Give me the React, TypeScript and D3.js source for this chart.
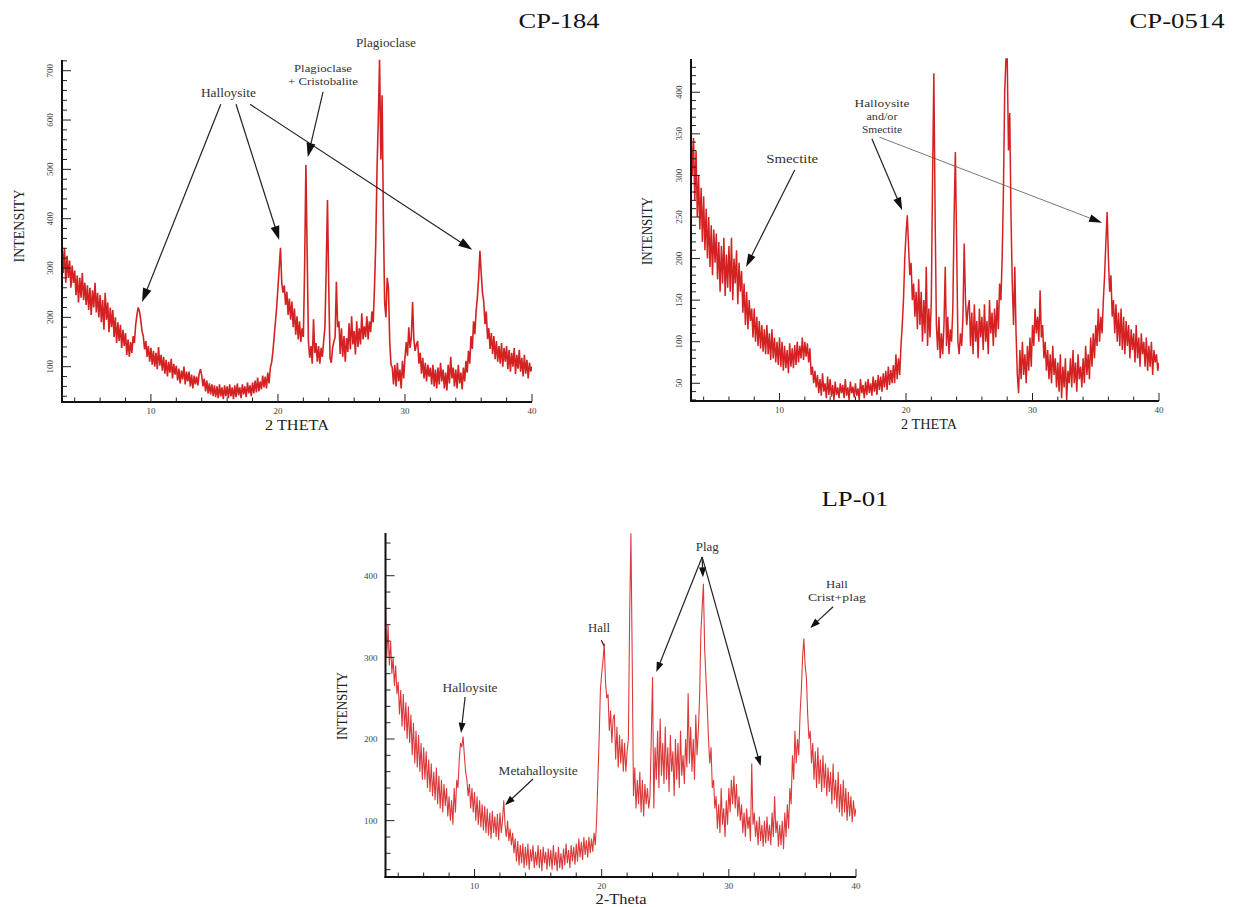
import React from "react";
import * as d3 from "d3";

// 2-theta grid of the scans (degrees)
const THETA_START = 3;
const THETA_STEP = 0.1;

// CP-184 intensities, one row per degree (3.0 .. 40.0)
const CP184 = [
  355, 290, 340, 270, 325, 280, 315, 260, 305, 270,
  295, 245, 285, 230, 280, 240, 290, 235, 270, 225,
  265, 215, 260, 205, 255, 220, 270, 210, 250, 200,
  245, 190, 235, 175, 250, 195, 230, 170, 220, 180,
  215, 160, 200, 148, 190, 152, 185, 138, 175, 142,
  168, 124, 155, 120, 150, 128, 162, 148, 185, 205,
  220, 212, 195, 172, 162, 135, 152, 120, 142, 110,
  138, 104, 132, 100, 128, 95, 140, 102, 124, 92,
  120, 86, 114, 80, 110, 88, 116, 76, 106, 84,
  102, 72, 96, 66, 92, 74, 100, 64, 90, 70,
  90, 60, 84, 56, 82, 64, 80, 62, 86, 95,
  82, 60, 76, 50, 72, 46, 66, 44, 64, 40,
  62, 38, 60, 36, 64, 40, 58, 34, 62, 40,
  60, 36, 64, 40, 58, 34, 62, 38, 66, 42,
  58, 36, 64, 44, 60, 38, 68, 46, 62, 40,
  68, 46, 72, 48, 78, 50, 70, 54, 82, 58,
  80, 56, 88, 66, 98, 108, 130, 160, 190, 220,
  260, 300, 341, 270, 250, 265, 225, 252, 205, 238,
  195, 232, 180, 218, 165, 202, 155, 192, 150, 178,
  160, 300, 509, 330, 150, 118, 142, 106, 196, 128,
  148, 110, 142, 106, 138, 120, 152, 180, 300, 438,
  260, 118, 108, 138, 150, 160, 272, 180, 192, 126,
  178, 120, 162, 110, 158, 130, 188, 135, 202, 145,
  172, 125, 192, 140, 178, 145, 208, 155, 182, 160,
  202, 155, 192, 170, 212, 190, 260, 350, 500, 600,
  722, 520, 650, 400, 230, 200, 280, 260, 150, 105,
  98, 64, 104, 60, 108, 70, 94, 56, 112, 76,
  118, 150, 122, 180, 138, 160, 231, 155, 132, 145,
  152, 106, 128, 86, 118, 76, 108, 70, 104, 80,
  98, 64, 104, 60, 94, 56, 98, 64, 108, 70,
  94, 56, 88, 52, 104, 66, 120, 76, 98, 60,
  94, 56, 104, 66, 88, 54, 98, 70, 112, 88,
  132, 106, 162, 136, 192, 166, 212, 240, 280, 335,
  290, 250, 232, 186, 212, 156, 178, 136, 168, 126,
  162, 115, 152, 110, 142, 106, 148, 100, 138, 110,
  142, 95, 134, 90, 128, 100, 138, 85, 124, 96,
  134, 90, 118, 80, 124, 86, 114, 76, 108, 90,
  100,
];

// CP-0514 intensities
const CP0514 = [
  358, 300, 345, 270, 330, 250, 300, 235, 285, 220,
  275, 210, 260, 200, 250, 190, 240, 180, 235, 195,
  230, 175, 220, 160, 215, 170, 225, 155, 205, 165,
  215, 160, 225, 150, 200, 170, 210, 145, 195, 160,
  185, 135, 170, 120, 160, 115, 150, 125, 140, 105,
  140, 100, 130, 95, 125, 92, 120, 88, 115, 85,
  120, 85, 110, 78, 115, 80, 105, 75, 100, 72,
  105, 70, 100, 65, 95, 68, 90, 62, 98, 70,
  92, 68, 96, 72, 100, 75, 95, 80, 105, 78,
  100, 82, 98, 75, 92, 60, 70, 50, 65, 45,
  60, 38, 55, 35, 62, 40, 50, 32, 58, 36,
  55, 34, 48, 30, 52, 36, 45, 32, 50, 38,
  48, 32, 55, 35, 45, 30, 52, 38, 46, 33,
  50, 35, 44, 30, 55, 38, 48, 32, 52, 36,
  55, 38, 50, 35, 58, 40, 54, 36, 60, 42,
  58, 40, 62, 45, 65, 42, 70, 48, 66, 50,
  72, 50, 85, 55, 80, 60, 95, 120, 150, 200,
  230, 252, 215, 180, 195, 150, 170, 130, 160, 115,
  175, 120, 160, 100, 150, 110, 190, 95, 140, 105,
  150, 300, 423, 250, 120, 90, 130, 80, 110, 85,
  120, 190, 95, 130, 85, 115, 100, 140, 250, 328,
  220, 100, 85, 110, 95, 130, 218, 150, 120, 140,
  150, 95, 135, 85, 145, 100, 125, 80, 140, 105,
  130, 90, 145, 100, 125, 85, 150, 110, 135, 95,
  140, 105, 150, 115, 170, 150, 200, 280, 400, 440,
  440, 330, 375, 250, 170, 120, 190, 110, 60, 38,
  90, 55, 100, 60, 85, 50, 95, 65, 105, 70,
  120, 95, 140, 110, 130, 100, 162, 105, 120, 80,
  100, 65, 90, 55, 85, 50, 95, 60, 80, 45,
  75, 40, 85, 32, 70, 45, 80, 30, 65, 50,
  80, 45, 90, 50, 75, 40, 85, 55, 70, 45,
  80, 50, 95, 60, 85, 55, 105, 70, 110, 80,
  120, 95, 140, 100, 130, 110, 150, 180, 220, 256,
  200, 160, 180, 130, 150, 110, 145, 100, 135, 95,
  140, 90, 130, 85, 125, 95, 120, 80, 115, 90,
  110, 75, 120, 80, 105, 70, 110, 85, 100, 70,
  105, 65, 95, 70, 100, 60, 90, 75, 85, 65,
  75,
];

// LP-01 intensities
const LP01 = [
  365, 300, 340, 290, 320, 280, 300, 265, 290, 255,
  270, 230, 260, 215, 255, 210, 245, 200, 240, 195,
  230, 180, 220, 170, 210, 165, 205, 160, 195, 150,
  190, 150, 185, 140, 175, 135, 170, 130, 160, 125,
  165, 120, 155, 115, 150, 110, 145, 118, 140, 105,
  130, 100, 125, 95, 140, 110, 150, 140, 175, 195,
  190, 203, 180, 160, 150, 130, 145, 115, 140, 110,
  135, 100, 130, 95, 125, 92, 120, 88, 118, 85,
  115, 82, 110, 78, 112, 85, 105, 80, 108, 76,
  110, 85, 100, 125, 95, 80, 100, 75, 90, 70,
  85, 60, 78, 50, 75, 45, 70, 48, 72, 42,
  68, 45, 72, 40, 65, 50, 70, 42, 62, 45,
  70, 42, 65, 38, 68, 48, 62, 40, 66, 44,
  64, 40, 70, 45, 62, 38, 68, 42, 60, 40,
  66, 45, 72, 48, 64, 42, 70, 50, 68, 46,
  72, 50, 78, 55, 74, 52, 80, 58, 76, 55,
  80, 60, 78, 62, 85, 70, 100, 150, 200, 260,
  280, 295, 317, 270, 250, 255, 210, 235, 195, 225,
  230, 175, 215, 165, 205, 170, 200, 160, 195, 160,
  185, 200, 350, 452, 300, 130, 165, 115, 150, 120,
  160, 110, 150, 105, 145, 120, 140, 115, 130, 200,
  276, 115, 190, 150, 210, 140, 225, 155, 195, 145,
  215, 150, 190, 135, 205, 160, 185, 130, 200, 150,
  195, 140, 210, 155, 180, 145, 200, 165, 256, 170,
  215, 160, 200, 150, 230, 180, 210, 250, 330, 360,
  390, 310, 275, 240, 200, 170, 190, 140, 150, 115,
  130, 90, 120, 85, 140, 95, 115, 80, 125, 95,
  140, 110, 150, 120, 155, 115, 145, 105, 130, 100,
  120, 85, 110, 80, 115, 90, 105, 75, 170, 95,
  110, 80, 100, 70, 105, 75, 95, 68, 100, 72,
  105, 75, 95, 70, 110, 80, 130, 85, 100, 68,
  95, 70, 100, 65, 110, 80, 120, 90, 140, 120,
  180, 150, 210, 170, 200, 180, 230, 260, 300, 323,
  290, 275, 230, 200, 210, 170, 195, 150, 185, 140,
  190, 145, 175, 135, 180, 140, 170, 130, 165, 135,
  160, 120, 170, 125, 150, 115, 160, 110, 145, 105,
  150, 110, 140, 100, 135, 105, 130, 98, 125, 105,
  115,
];

const X_TICKS = [10, 20, 30, 40];
const CP184_Y_TICKS = [100, 200, 300, 400, 500, 600, 700];
const CP0514_Y_TICKS = [50, 100, 150, 200, 250, 300, 350, 400];
const LP01_Y_TICKS = [100, 200, 300, 400];

const CP184_LABELS = [
  { t: 16.1, v: 655, s: "Halloysite", w: 55, f: 12 },
  { t: 23.55, v: 704, s: "Plagioclase", w: 58, f: 10.5 },
  { t: 23.55, v: 679, s: "+ Cristobalite", w: 70, f: 10.5 },
  { t: 28.5, v: 756, s: "Plagioclase", w: 60, f: 12 },
];
const CP184_ARROWS = [
  { from: [15.5, 632], to: [9.3, 231] },
  { from: [16.7, 632], to: [20.1, 357] },
  { from: [17.8, 632], to: [35.3, 337] },
  { from: [23.55, 657], to: [22.35, 525] },
];

const CP0514_LABELS = [
  { t: 11.0, v: 320, s: "Smectite", w: 52, f: 12 },
  { t: 18.1, v: 387, s: "Halloysite", w: 55, f: 10.5 },
  { t: 18.1, v: 371.5, s: "and/or", w: 31, f: 10.5 },
  { t: 18.1, v: 356, s: "Smectite", w: 40, f: 10.5 },
];
const CP0514_ARROWS = [
  { from: [11.2, 306.5], to: [7.35, 190] },
  { from: [17.3, 344], to: [19.7, 258] },
  { from: [17.9, 346], to: [35.5, 243], thin: true },
];

const LP01_LABELS = [
  { t: 9.65, v: 262.5, s: "Halloysite", w: 55, f: 12 },
  { t: 15.0, v: 161, s: "Metahalloysite", w: 79, f: 12 },
  { t: 19.8, v: 336, s: "Hall", w: 22, f: 12 },
  { t: 28.3, v: 436, s: "Plag", w: 23, f: 12 },
  { t: 38.5, v: 390, s: "Hall", w: 22, f: 11 },
  { t: 38.5, v: 374, s: "Crist+plag", w: 58, f: 11 },
];
const LP01_ARROWS = [
  { from: [9.26, 251.5], to: [8.94, 207.5] },
  { from: [14.6, 151], to: [12.4, 119] },
  { from: [19.97, 321], to: [20.2, 314], noHead: true },
  { from: [27.9, 423], to: [24.3, 282] },
  { from: [27.9, 423], to: [27.96, 398] },
  { from: [27.9, 423], to: [32.5, 167] },
  { from: [38.2, 362], to: [36.4, 336] },
];

const SERIF = "'Liberation Serif', 'DejaVu Serif', serif";

type PanelCfg = {
  id: string;
  title: string;
  titleX: number;
  titleY: number;
  titleW: number;
  data: number[];
  left: number;
  right: number;
  top: number;
  bottom: number;
  yDomain: [number, number];
  yTicks: number[];
  yMinor: number;
  rotateY: boolean;
  color: string;
  sw: number;
  xLabel: string;
  xLabelX: number;
  xLabelY: number;
  xLabelW: number;
  yLabelX: number;
  yLabelY: number;
  yLabelW: number;
  labels: { t: number; v: number; s: string; w: number; f: number }[];
  arrows: { from: number[]; to: number[]; thin?: boolean; noHead?: boolean }[];
  headL: number;
  headW: number;
};

function Panel({ c }: { c: PanelCfg }) {
  const x = d3.scaleLinear().domain([3, 40]).range([c.left, c.right]);
  const y = d3.scaleLinear().domain(c.yDomain).range([c.bottom, c.top]);
  const line = d3
    .line<number>()
    .x((_, i) => x(THETA_START + i * THETA_STEP))
    .y((d) => y(d));
  const xMinor = d3.range(4, 40.001, 2).filter((v) => v % 10 !== 0);
  const yMinor = d3
    .range(Math.ceil(c.yDomain[0] / c.yMinor) * c.yMinor, c.yDomain[1], c.yMinor)
    .filter((v) => !c.yTicks.includes(v));

  return (
    <g>
      <defs>
        <clipPath id={`clip-${c.id}`}>
          <rect x={c.left} y={c.top - 2} width={c.right - c.left} height={c.bottom - c.top + 2} />
        </clipPath>
      </defs>
      <text
        x={c.titleX}
        y={c.titleY}
        fontFamily={SERIF}
        fontSize={21}
        textAnchor="middle"
        textLength={c.titleW}
        lengthAdjust="spacingAndGlyphs"
        fill="#111"
      >
        {c.title}
      </text>
      <path
        d={line(c.data) || ""}
        fill="none"
        stroke={c.color}
        strokeWidth={c.sw}
        strokeLinejoin="miter"
        clipPath={`url(#clip-${c.id})`}
      />
      {X_TICKS.map((t) => (
        <g key={`xt${t}`}>
          <line x1={x(t)} x2={x(t)} y1={c.bottom} y2={c.bottom - 8} stroke="#222" strokeWidth={1} />
          <text
            x={x(t)}
            y={c.bottom + 12}
            fontFamily={SERIF}
            fontSize={9}
            textAnchor="middle"
            fill="#444"
          >
            {t}
          </text>
        </g>
      ))}
      {xMinor.map((t) => (
        <line key={`xm${t}`} x1={x(t)} x2={x(t)} y1={c.bottom} y2={c.bottom - 4.5} stroke="#222" strokeWidth={1} />
      ))}
      {c.yTicks.map((v) => (
        <g key={`yt${v}`}>
          <line x1={c.left} x2={c.left + 9} y1={y(v)} y2={y(v)} stroke="#222" strokeWidth={1} />
          {c.rotateY ? (
            <text
              transform={`translate(${c.left - 9},${y(v)}) rotate(-90)`}
              fontFamily={SERIF}
              fontSize={9}
              textAnchor="middle"
              fill="#444"
            >
              {v}
            </text>
          ) : (
            <text
              x={c.left - 8}
              y={y(v)}
              dy="0.35em"
              fontFamily={SERIF}
              fontSize={9}
              textAnchor="end"
              fill="#444"
            >
              {v}
            </text>
          )}
        </g>
      ))}
      {yMinor.map((v) => (
        <line key={`ym${v}`} x1={c.left} x2={c.left + 5} y1={y(v)} y2={y(v)} stroke="#222" strokeWidth={1} />
      ))}
      <line x1={c.left} x2={c.left} y1={c.top} y2={c.bottom + 1} stroke="#111" strokeWidth={2} />
      <line x1={c.left - 1} x2={c.right} y1={c.bottom} y2={c.bottom} stroke="#111" strokeWidth={2} />
      <text
        x={c.xLabelX}
        y={c.xLabelY}
        fontFamily={SERIF}
        fontSize={15}
        textAnchor="middle"
        textLength={c.xLabelW}
        lengthAdjust="spacingAndGlyphs"
        fill="#222"
      >
        {c.xLabel}
      </text>
      <text
        transform={`translate(${c.yLabelX},${c.yLabelY}) rotate(-90)`}
        fontFamily={SERIF}
        fontSize={15}
        textAnchor="middle"
        textLength={c.yLabelW}
        lengthAdjust="spacingAndGlyphs"
        fill="#222"
      >
        INTENSITY
      </text>
      {c.labels.map((l, i) => (
        <text
          key={`l${i}`}
          x={x(l.t)}
          y={y(l.v)}
          dy="0.35em"
          fontFamily={SERIF}
          fontSize={l.f}
          textAnchor="middle"
          textLength={l.w}
          lengthAdjust="spacingAndGlyphs"
          fill="#333"
        >
          {l.s}
        </text>
      ))}
      {c.arrows.map((a, i) => {
        const x1 = x(a.from[0]);
        const y1 = y(a.from[1]);
        const x2 = x(a.to[0]);
        const y2 = y(a.to[1]);
        const dx = x2 - x1;
        const dy = y2 - y1;
        const len = Math.hypot(dx, dy);
        const ux = dx / len;
        const uy = dy / len;
        const L = Math.min(c.headL, len * 0.6);
        const W = c.headW;
        const bx = x2 - ux * L;
        const by = y2 - uy * L;
        const head = `M${x2},${y2}L${bx - uy * W},${by + ux * W}L${bx + uy * W},${by - ux * W}Z`;
        return (
          <g key={`a${i}`}>
            <line
              x1={x1}
              y1={y1}
              x2={a.noHead ? x2 : bx + ux * 1}
              y2={a.noHead ? y2 : by + uy * 1}
              stroke={a.thin ? "#555" : "#222"}
              strokeWidth={a.thin ? 0.8 : 1.2}
            />
            {!a.noHead && <path d={head} fill="#111" />}
          </g>
        );
      })}
    </g>
  );
}

const PANELS: PanelCfg[] = [
  {
    id: "cp184",
    title: "CP-184",
    titleX: 559,
    titleY: 28,
    titleW: 81,
    data: CP184,
    left: 62,
    right: 532,
    top: 60,
    bottom: 402,
    yDomain: [28.4, 721.7],
    yTicks: CP184_Y_TICKS,
    yMinor: 20,
    rotateY: true,
    color: "#d42222",
    sw: 1.6,
    xLabel: "2 THETA",
    xLabelX: 297,
    xLabelY: 430,
    xLabelW: 64,
    yLabelX: 24,
    yLabelY: 226,
    yLabelW: 73,
    labels: CP184_LABELS,
    arrows: CP184_ARROWS,
    headL: 14,
    headW: 4.5,
  },
  {
    id: "cp0514",
    title: "CP-0514",
    titleX: 1177,
    titleY: 28,
    titleW: 95,
    data: CP0514,
    left: 691,
    right: 1159,
    top: 59,
    bottom: 401,
    yDomain: [28.7, 440],
    yTicks: CP0514_Y_TICKS,
    yMinor: 10,
    rotateY: true,
    color: "#d42222",
    sw: 1.5,
    xLabel: "2 THETA",
    xLabelX: 929,
    xLabelY: 429,
    xLabelW: 56,
    yLabelX: 652,
    yLabelY: 231,
    yLabelW: 68,
    labels: CP0514_LABELS,
    arrows: CP0514_ARROWS,
    headL: 13,
    headW: 4,
  },
  {
    id: "lp01",
    title: "LP-01",
    titleX: 855,
    titleY: 506,
    titleW: 67,
    data: LP01,
    left: 385.5,
    right: 856,
    top: 533,
    bottom: 877,
    yDomain: [31, 452.3],
    yTicks: LP01_Y_TICKS,
    yMinor: 20,
    rotateY: false,
    color: "#dc3a3a",
    sw: 1.1,
    xLabel: "2-Theta",
    xLabelX: 621,
    xLabelY: 904,
    xLabelW: 51,
    yLabelX: 347,
    yLabelY: 706,
    yLabelW: 68,
    labels: LP01_LABELS,
    arrows: LP01_ARROWS,
    headL: 10,
    headW: 3.5,
  },
];

export default function App() {
  return (
    <div style={{ position: "absolute", left: 0, top: 0 }}>
      <svg width={1233} height={907} style={{ display: "block", background: "#fff" }}>
        {PANELS.map((p) => (
          <Panel key={p.id} c={p} />
        ))}
      </svg>
    </div>
  );
}
